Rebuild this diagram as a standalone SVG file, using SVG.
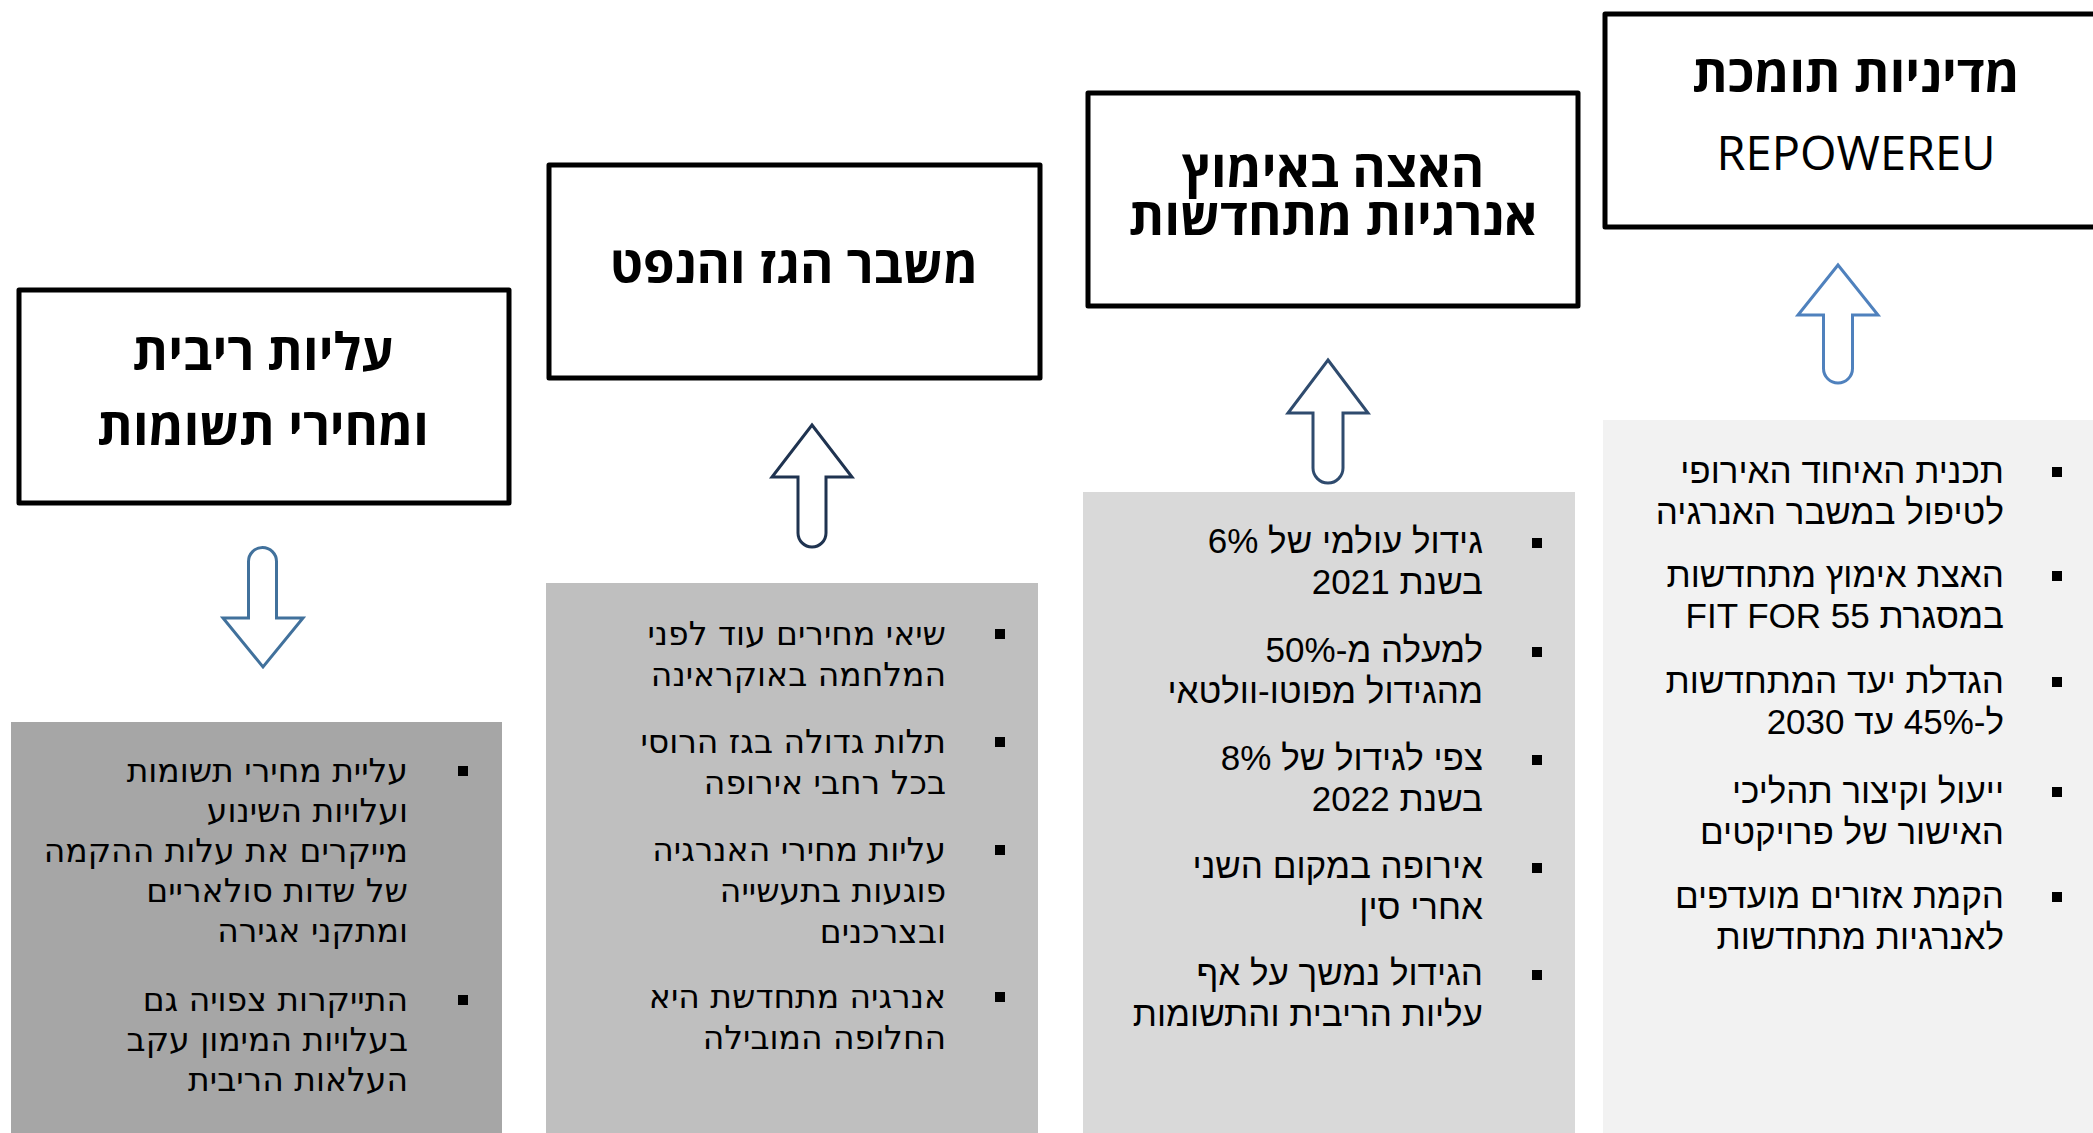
<svg xmlns="http://www.w3.org/2000/svg" width="2093" height="1133" viewBox="0 0 2093 1133">
<style>
.box{fill:#fff;stroke:#000;stroke-width:5;stroke-linejoin:round}
.ttl{font-family:'Open Sans','DejaVu Sans',sans-serif;font-weight:bold;font-size:51px;fill:#000;text-anchor:middle;direction:rtl}
.lat{font-family:'Open Sans','Liberation Sans',sans-serif;font-size:47px;fill:#000;text-anchor:middle}
.bd1{font-family:'DejaVu Sans',sans-serif;font-size:33px;fill:#000;text-anchor:start;direction:rtl}
.bd2{font-family:'Liberation Sans',Arial,sans-serif;font-size:35px;fill:#000;text-anchor:start;direction:rtl}
.bul{fill:#000}
.arr{fill:#fff;stroke-width:3;stroke-linejoin:miter}
</style>
<rect width="2093" height="1133" fill="#fff"/>

<g id="node-interest">
<rect x="11" y="722" width="491" height="420" fill="#a6a6a6"/>
<rect class="box" x="19" y="290" width="490" height="213"/>
<text class="ttl" x="263" y="370">עליות ריבית</text>
<text class="ttl" x="263" y="445">ומחירי תשומות</text>
<rect class="bul" x="458" y="766" width="10" height="10"/>
<rect class="bul" x="458" y="995" width="10" height="10"/>
<text class="bd1" x="408" y="782">עליית מחירי תשומות</text>
<text class="bd1" x="408" y="822">ועלויות השינוע</text>
<text class="bd1" x="408" y="862">מייקרים את עלות ההקמה</text>
<text class="bd1" x="408" y="902">של שדות סולאריים</text>
<text class="bd1" x="408" y="942">ומתקני אגירה</text>
<text class="bd1" x="408" y="1011">התייקרות צפויה גם</text>
<text class="bd1" x="408" y="1051">בעלויות המימון עקב</text>
<text class="bd1" x="408" y="1091">העלאות הריבית</text>
</g>

<g id="node-gas">
<rect x="546" y="583" width="492" height="560" fill="#bfbfbf"/>
<rect class="box" x="549" y="165" width="491" height="213"/>
<text class="ttl" x="794" y="283">משבר הגז והנפט</text>
<rect class="bul" x="995" y="629" width="10" height="10"/>
<rect class="bul" x="995" y="737" width="10" height="10"/>
<rect class="bul" x="995" y="845" width="10" height="10"/>
<rect class="bul" x="995" y="992" width="10" height="10"/>
<text class="bd1" x="946" y="645">שיאי מחירים עוד לפני</text>
<text class="bd1" x="946" y="686">המלחמה באוקראינה</text>
<text class="bd1" x="946" y="753">תלות גדולה בגז הרוסי</text>
<text class="bd1" x="946" y="794">בכל רחבי אירופה</text>
<text class="bd1" x="946" y="861">עליות מחירי האנרגיה</text>
<text class="bd1" x="946" y="902">פוגעות בתעשייה</text>
<text class="bd1" x="946" y="943">ובצרכנים</text>
<text class="bd1" x="946" y="1008">אנרגיה מתחדשת היא</text>
<text class="bd1" x="946" y="1049">החלופה המובילה</text>
</g>

<g id="node-renewables">
<rect x="1083" y="492" width="492" height="650" fill="#d9d9d9"/>
<rect class="box" x="1088" y="93" width="490" height="213"/>
<text class="ttl" x="1333" y="187">האצה באימוץ</text>
<text class="ttl" x="1333" y="235">אנרגיות מתחדשות</text>
<rect class="bul" x="1532" y="538" width="10" height="10"/>
<rect class="bul" x="1532" y="647" width="10" height="10"/>
<rect class="bul" x="1532" y="755" width="10" height="10"/>
<rect class="bul" x="1532" y="863" width="10" height="10"/>
<rect class="bul" x="1532" y="970" width="10" height="10"/>
<text class="bd2" x="1483" y="553">גידול עולמי של 6%</text>
<text class="bd2" x="1483" y="594">בשנת 2021</text>
<text class="bd2" x="1483" y="662">למעלה מ-50%</text>
<text class="bd2" x="1483" y="703">מהגידול מפוטו-וולטאי</text>
<text class="bd2" x="1483" y="770">צפי לגידול של 8%</text>
<text class="bd2" x="1483" y="811">בשנת 2022</text>
<text class="bd2" x="1483" y="878">אירופה במקום השני</text>
<text class="bd2" x="1483" y="919">אחרי סין</text>
<text class="bd2" x="1483" y="985">הגידול נמשך על אף</text>
<text class="bd2" x="1483" y="1026">עליות הריבית והתשומות</text>
</g>

<g id="node-policy">
<rect x="1603" y="420" width="500" height="720" fill="#f2f2f2"/>
<rect class="box" x="1605" y="14" width="510" height="213"/>
<text class="ttl" x="1856" y="92">מדיניות תומכת</text>
<text class="lat" x="1856" y="170">REPOWEREU</text>
<rect class="bul" x="2052" y="467" width="10" height="10"/>
<rect class="bul" x="2052" y="571" width="10" height="10"/>
<rect class="bul" x="2052" y="677" width="10" height="10"/>
<rect class="bul" x="2052" y="787" width="10" height="10"/>
<rect class="bul" x="2052" y="892" width="10" height="10"/>
<text class="bd2" x="2004" y="483">תכנית האיחוד האירופי</text>
<text class="bd2" x="2004" y="524">לטיפול במשבר האנרגיה</text>
<text class="bd2" x="2004" y="587">האצת אימוץ מתחדשות</text>
<text class="bd2" x="2004" y="628">במסגרת FIT FOR 55</text>
<text class="bd2" x="2004" y="693">הגדלת יעד המתחדשות</text>
<text class="bd2" x="2004" y="734">ל-45% עד 2030</text>
<text class="bd2" x="2004" y="803">ייעול וקיצור תהליכי</text>
<text class="bd2" x="2004" y="844">האישור של פרויקטים</text>
<text class="bd2" x="2004" y="908">הקמת אזורים מועדפים</text>
<text class="bd2" x="2004" y="949">לאנרגיות מתחדשות</text>
</g>

<g id="connectors">
<path class="arr" stroke="#41719c" d="M248.5,561.5 A14,14 0 0 1 276.5,561.5 L276.5,618 L303,618 L263,667 L223,618 L248.5,618 Z"/>
<path class="arr" stroke="#1f3350" d="M812,425 L852,477 L826,477 L826,533 A14,14 0 0 1 798,533 L798,477 L772,477 Z"/>
<path class="arr" stroke="#2f4b6e" d="M1328,360 L1368,413 L1343,413 L1343,468 A15,15 0 0 1 1313,468 L1313,413 L1288,413 Z"/>
<path class="arr" stroke="#4f81bd" d="M1838,265 L1878,315 L1852.5,315 L1852.5,368.5 A14.5,14.5 0 0 1 1823.5,368.5 L1823.5,315 L1798,315 Z"/>
</g>
</svg>
